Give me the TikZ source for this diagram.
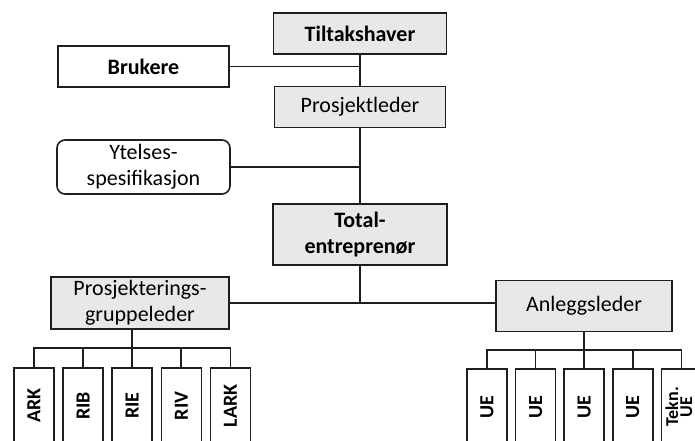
\documentclass[tikz,border=0pt]{standalone}
\usepackage{fontspec}
\setmainfont{Carlito}
\usepackage{graphicx}
\usetikzlibrary{positioning}
\definecolor{boxfill}{RGB}{232,232,232}
\definecolor{linecol}{RGB}{30,30,30}
\tikzset{
    block/.style={
        rectangle, draw=linecol, line width=1.6pt, fill=white,
        text centered, align=center, inner sep=2pt,
        font=\fontsize{22}{26}\selectfont
    },
    greyblock/.style={block, fill=boxfill},
    boldblock/.style={greyblock, font=\fontsize{22}{26}\selectfont\bfseries},
    subblock/.style={
        block, minimum width=40pt, minimum height=76pt,
        font=\fontsize{20}{22}\selectfont\bfseries
    },
    connection/.style={draw=linecol, line width=1.7pt}
}

\begin{document}
\begin{tikzpicture}[x=1pt, y=-1pt]
\useasboundingbox (0,0) rectangle (695,440);
\clip (0,0) rectangle (695,440);
\fill[white] (0,0) rectangle (695,440);

% Main line
\node[boldblock, minimum width=173pt, minimum height=41pt] (tiltak) at (360,33.5) {Tiltakshaver};
\node[greyblock, minimum width=171pt, minimum height=41pt, below=31pt of tiltak] (prosjleder) {Prosjektleder};
\node[boldblock, minimum width=174pt, minimum height=61pt, below=75pt of prosjleder] (totalentr) {Total-\\entreprenør};

% Side boxes
\node[block, font=\fontsize{22}{26}\selectfont\bfseries, minimum width=171pt, minimum height=41pt] (brukere) at (143.5,66.5) {Brukere};
\node[block, rounded corners=8pt, minimum width=173pt, minimum height=54pt] (ytelse) at (143.5,167) {Ytelses-\\spesifikasjon};

% Second level
\node[greyblock, minimum width=178pt, minimum height=52pt] (pgl) at (140,303) {Prosjekterings-\\gruppeleder};
\node[greyblock, minimum width=176pt, minimum height=51pt] (anlegg) at (584,306) {Anleggsleder};

% Design team
\node[subblock, anchor=north] (ark) at (34,367) {\rotatebox{90}{ARK}};
\node[subblock, right=7.5pt of ark] (rib) {\rotatebox{90}{RIB}};
\node[subblock, right=7.5pt of rib] (rie) {\rotatebox{90}{RIE}};
\node[subblock, right=7.5pt of rie] (riv) {\rotatebox{90}{RIV}};
\node[subblock, right=7.5pt of riv] (lark) {\rotatebox{90}{LARK}};

% Subcontractors
\node[subblock, anchor=north] (ue1) at (487,368) {\rotatebox{90}{UE}};
\node[subblock, right=7pt of ue1] (ue2) {\rotatebox{90}{UE}};
\node[subblock, right=7pt of ue2] (ue3) {\rotatebox{90}{UE}};
\node[subblock, right=7pt of ue3] (ue4) {\rotatebox{90}{UE}};
\node[subblock, right=7pt of ue4, font=\fontsize{18}{18}\selectfont\bfseries] (teknue)
    {\rotatebox{90}{\begin{tabular}{@{}c@{}}Tekn.\\[-4pt]UE\end{tabular}}};

\coordinate (lbus) at (133,348);
\coordinate (rbus) at (584,350);

% Connections
\draw[connection] (tiltak) -- (prosjleder);
\draw[connection] (prosjleder) -- (totalentr);
\draw[connection] (brukere.east) -- (brukere.east -| tiltak.south);
\draw[connection] (ytelse.east) -- (ytelse.east -| prosjleder.south);
\draw[connection] (totalentr.south) -- (totalentr.south |- pgl.east);
\draw[connection] (pgl.east) -- (pgl.east -| anlegg.west);

\draw[connection] (rie.north |- pgl.south) -- (rie.north);
\draw[connection] (ark.north) -- (ark.north |- lbus) -| (lark.north);
\draw[connection] (rib.north) -- (rib.north |- lbus);
\draw[connection] (riv.north) -- (riv.north |- lbus);

\draw[connection] (anlegg.south) -- (anlegg.south |- ue3.north);
\draw[connection] (ue1.north) -- (ue1.north |- rbus) -| (teknue.north);
\draw[connection] (ue2.north) -- (ue2.north |- rbus);
\draw[connection] (ue4.north) -- (ue4.north |- rbus);

\end{tikzpicture}
\end{document}
